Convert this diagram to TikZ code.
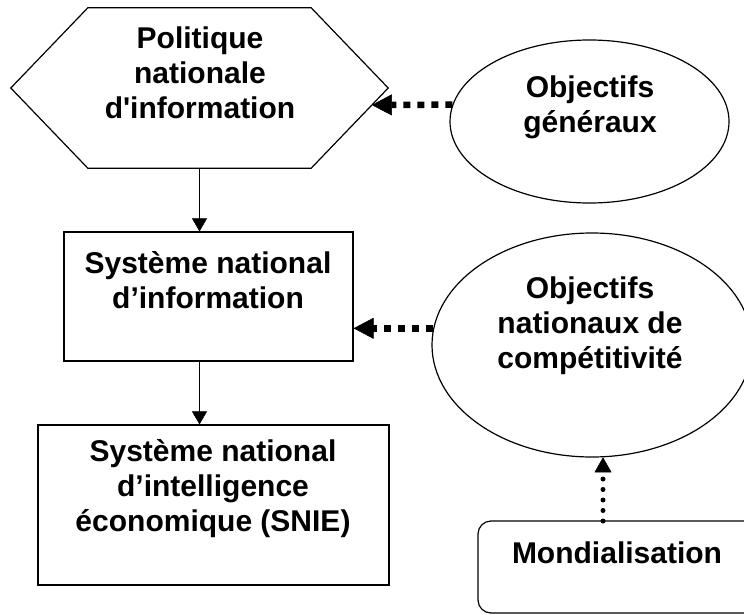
\documentclass[tikz,border=0pt]{standalone}
\usepackage{fontspec}
\setmainfont{Liberation Sans}[Ligatures=TeXOff]
\usetikzlibrary{shapes.geometric,arrows.meta,calc}
\begin{document}
\begin{tikzpicture}[x=1pt,y=-1pt,
  shapeline/.style={draw=black,line width=1.2pt},
  boxnode/.style={shapeline,rectangle,inner sep=0pt},
  ellnode/.style={shapeline,ellipse,inner sep=0pt},
  label/.style={font=\fontsize{30}{35}\selectfont\bfseries,align=center,inner sep=0pt},
  solidarrow/.style={line width=1.2pt,-{Triangle[length=13pt,width=15pt,line width=0.5pt]}},
  squarearrow/.style={line width=6.5pt,dash pattern=on 7pt off 7pt,-{Triangle[length=20pt,width=21pt,line width=0.5pt]}},
  dotarrow/.style={line width=5pt,line cap=round,dash pattern=on 0pt off 10.5pt,-{Triangle[length=15pt,width=17pt,line width=0.5pt,round]}}
]
\useasboundingbox (0,0) rectangle (744,615);
\clip (0,0) rectangle (744,615);
\fill[white] (0,0) rectangle (744,615);

% hexagon
\node[minimum width=377pt,minimum height=160pt,inner sep=0pt] (pol) at (199.5,88) {};
\draw[shapeline,line join=miter]
  ($(pol.north west)+(77,0)$) -- ($(pol.north east)+(-77,0)$) -- (pol.east)
  -- ($(pol.south east)+(-77,0)$) -- ($(pol.south west)+(77,0)$) -- (pol.west) -- cycle;
\coordinate (polhit) at ($(pol.east)+(-16.4,17)$);
\node[label] (poltext) at (200,73) {Politique\\nationale\\d'information};

% objectifs generaux
\node[ellnode,minimum width=279pt,minimum height=163pt] (obj1) at (589.5,121.5) {};
\node[label] (obj1text) at (590,107.5) {Objectifs\\généraux};

% systeme national d'information
\node[boxnode,minimum width=289pt,minimum height=129pt] (sni) at (208.5,296.5) {};
\node[label] (snitext) at (208,280) {Système national\\d’information};

% objectifs nationaux de competitivite
\node[ellnode,minimum width=320pt,minimum height=224pt] (obj2) at (592,345) {};
\node[label] (obj2text) at (590,326) {Objectifs\\nationaux de\\compétitivité};

% SNIE
\node[boxnode,minimum width=351pt,minimum height=160pt] (snie) at (213.5,505) {};
\node[label] (snietext) at (213,489) {Système national\\d’intelligence\\économique (SNIE)};

% Mondialisation
\node[boxnode,rounded corners=13pt,minimum width=282pt,minimum height=92pt] (mond) at (619,567) {};
\node[label] (mondtext) at (617,553) {Mondialisation};
\coordinate (mtop) at (603,521);

% connectors
\draw[solidarrow] (pol.south) -- (pol.south |- sni.north);
\draw[solidarrow] (pol.south |- sni.south) -- (pol.south |- snie.north);
\draw[squarearrow] (obj1.173) -- (polhit);
\draw[squarearrow] (obj2.174) -- (sni.east |- obj2.174);
\draw[dotarrow] (mtop) -- (mtop |- obj2.south);
\end{tikzpicture}
\end{document}
